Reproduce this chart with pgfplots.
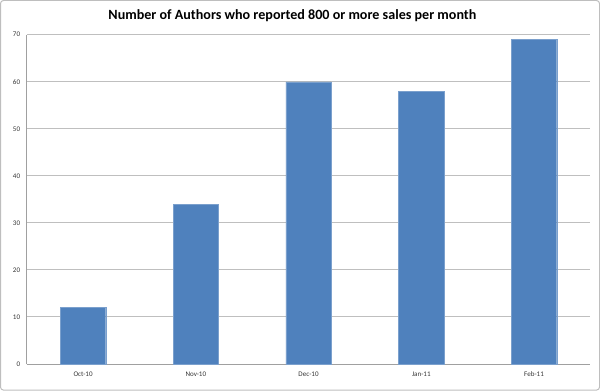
\documentclass[border=0pt]{standalone}
\usepackage{fontspec}
\setmainfont{Carlito}
\usepackage{pgfplots}
\pgfplotsset{compat=1.18}
\definecolor{barblue}{HTML}{4F81BD}
\definecolor{gridgray}{HTML}{BFBFBF}
\definecolor{axgray}{HTML}{A0A0A0}
\definecolor{framegray}{HTML}{BEBEBE}
\begin{document}
\begin{tikzpicture}[x=1pt,y=1pt]
\begin{axis}[
  scale only axis,
  width=560pt, height=327pt,
  xmin=-0.5, xmax=4.5,
  ymin=0, ymax=70,
  ytick={0,10,...,70},
  xtick=data,
  xticklabels={Oct-10,Nov-10,Dec-10,Jan-11,Feb-11},
  ybar, bar width=45pt,
  axis lines=left,
  axis line style={axgray, -},
  ymajorgrids, grid style={gridgray, line width=0.8pt},
  major tick length=0pt,
  tick label style={font=\fontsize{7}{8}\selectfont, text=black!80},
  /pgf/number format/assume math mode=true,
  yticklabel style={xshift=-3pt},
  xticklabel style={yshift=-4pt},
  clip=false,
]
\addplot[fill=barblue, draw=barblue!75!white] coordinates {(0,12) (1,34) (2,60) (3,58) (4,69)};
\coordinate (O) at (rel axis cs:0,0);
\coordinate (T) at (rel axis cs:1,1);
\end{axis}
\draw[framegray, line width=1pt, rounded corners=3pt] ([xshift=-26pt,yshift=-26pt]O) rectangle ([xshift=9pt,yshift=34pt]T);
\node[font=\fontsize{14}{16}\selectfont\bfseries] at ([xshift=-8pt,yshift=19pt]O |- T) [xshift=272pt] {Number of Authors who reported 800 or more sales per month};
\end{tikzpicture}
\end{document}
